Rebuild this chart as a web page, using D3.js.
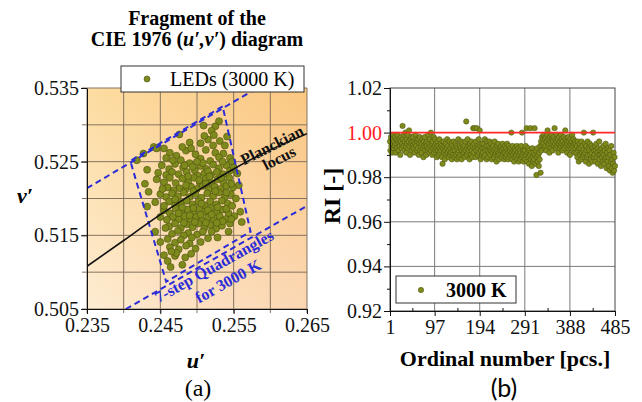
<!DOCTYPE html>
<html>
<head>
<meta charset="utf-8">
<script src="https://cdn.jsdelivr.net/npm/d3@7"></script>
<style>
body { margin: 0; background: #fff; }
text { font-family: 'Liberation Serif', 'Times New Roman', serif; }
</style>
</head>
<body>
<script>
// ---------- panel (a): CIE 1976 u'v' fragment ----------
const ledPoints = [
  [0.2530, 0.5305], [0.2525, 0.5298], [0.2509, 0.5299], [0.2520, 0.5292],
  [0.2476, 0.5287], [0.2523, 0.5286], [0.2541, 0.5284], [0.2515, 0.5280], [0.2531, 0.5278], [0.2505, 0.5275],
  [0.2441, 0.5270], [0.2445, 0.5268], [0.2538, 0.5272], [0.2490, 0.5276],
  [0.2427, 0.5261], [0.2536, 0.5261], [0.2463, 0.5262], [0.2472, 0.5258], [0.2485, 0.5265], [0.2498, 0.5260],
  [0.2512, 0.5266], [0.2525, 0.5262], [0.2545, 0.5255], [0.2418, 0.5252], [0.2478, 0.5252], [0.2505, 0.5254],
  [0.2518, 0.5251], [0.2530, 0.5256], [0.2458, 0.5255], [0.2492, 0.5268], [0.2548, 0.5250],
  [0.2432, 0.5239], [0.2452, 0.5245], [0.2462, 0.5240], [0.2470, 0.5247], [0.2481, 0.5242], [0.2490, 0.5248],
  [0.2497, 0.5238], [0.2505, 0.5244], [0.2513, 0.5240], [0.2522, 0.5246], [0.2530, 0.5241], [0.2540, 0.5245],
  [0.2555, 0.5234], [0.2475, 0.5233], [0.2486, 0.5236], [0.2501, 0.5231], [0.2510, 0.5234], [0.2519, 0.5232],
  [0.2527, 0.5236], [0.2536, 0.5233], [0.2545, 0.5238], [0.2458, 0.5232], [0.2466, 0.5236], [0.2494, 0.5243],
  [0.2550, 0.5242],
  [0.2429, 0.5220], [0.2445, 0.5226], [0.2455, 0.5222], [0.2463, 0.5228], [0.2471, 0.5221], [0.2480, 0.5227],
  [0.2488, 0.5222], [0.2496, 0.5228], [0.2504, 0.5222], [0.2512, 0.5227], [0.2520, 0.5221], [0.2528, 0.5226],
  [0.2536, 0.5222], [0.2544, 0.5228], [0.2557, 0.5218], [0.2476, 0.5214], [0.2484, 0.5212], [0.2492, 0.5216],
  [0.2500, 0.5213], [0.2508, 0.5217], [0.2516, 0.5212], [0.2524, 0.5216], [0.2532, 0.5213], [0.2540, 0.5217],
  [0.2549, 0.5215], [0.2460, 0.5215], [0.2468, 0.5211], [0.2434, 0.5209],
  [0.2450, 0.5206], [0.2458, 0.5202], [0.2466, 0.5207], [0.2474, 0.5203], [0.2482, 0.5208], [0.2490, 0.5202],
  [0.2498, 0.5206], [0.2506, 0.5201], [0.2514, 0.5207], [0.2522, 0.5203], [0.2530, 0.5208], [0.2538, 0.5202],
  [0.2546, 0.5206], [0.2553, 0.5200], [0.2478, 0.5194], [0.2486, 0.5197], [0.2494, 0.5192], [0.2502, 0.5196],
  [0.2510, 0.5191], [0.2518, 0.5196], [0.2526, 0.5192], [0.2534, 0.5197], [0.2542, 0.5193], [0.2462, 0.5196],
  [0.2470, 0.5191], [0.2432, 0.5189], [0.2443, 0.5195],
  [0.2455, 0.5184], [0.2463, 0.5180], [0.2471, 0.5186], [0.2479, 0.5181], [0.2487, 0.5185], [0.2495, 0.5180],
  [0.2503, 0.5186], [0.2511, 0.5182], [0.2519, 0.5187], [0.2527, 0.5181], [0.2535, 0.5185], [0.2543, 0.5180],
  [0.2559, 0.5182], [0.2551, 0.5176], [0.2475, 0.5172], [0.2483, 0.5176], [0.2491, 0.5171], [0.2499, 0.5175],
  [0.2507, 0.5170], [0.2515, 0.5174], [0.2523, 0.5171], [0.2531, 0.5176], [0.2539, 0.5172], [0.2467, 0.5175],
  [0.2459, 0.5171],
  [0.2561, 0.5168], [0.2462, 0.5162], [0.2470, 0.5166], [0.2478, 0.5160], [0.2486, 0.5165], [0.2494, 0.5161],
  [0.2502, 0.5166], [0.2510, 0.5160], [0.2518, 0.5164], [0.2526, 0.5159], [0.2534, 0.5163], [0.2545, 0.5166],
  [0.2520, 0.5155], [0.2543, 0.5155], [0.2443, 0.5155], [0.2466, 0.5152], [0.2474, 0.5156], [0.2488, 0.5153],
  [0.2500, 0.5151], [0.2508, 0.5155], [0.2482, 0.5150],
  [0.2450, 0.5141], [0.2460, 0.5145], [0.2470, 0.5140], [0.2478, 0.5144], [0.2490, 0.5139], [0.2505, 0.5141],
  [0.2515, 0.5146], [0.2498, 0.5132], [0.2463, 0.5134], [0.2475, 0.5131], [0.2485, 0.5136],
  [0.2455, 0.5123], [0.2484, 0.5120], [0.2470, 0.5122], [0.2460, 0.5115], [0.2464, 0.5107], [0.2492, 0.5125],
  [0.2483, 0.5245], [0.2508, 0.5248], [0.2515, 0.5237], [0.2533, 0.5228], [0.2488, 0.5230], [0.2503, 0.5225],
  [0.2517, 0.5230], [0.2525, 0.5210], [0.2495, 0.5210], [0.2485, 0.5218], [0.2512, 0.5220], [0.2540, 0.5208],
  [0.2470, 0.5199], [0.2480, 0.5188], [0.2495, 0.5187], [0.2506, 0.5193], [0.2515, 0.5184], [0.2528, 0.5188],
  [0.2540, 0.5186], [0.2548, 0.5190], [0.2475, 0.5180], [0.2490, 0.5177], [0.2505, 0.5178], [0.2520, 0.5178],
  [0.2535, 0.5169], [0.2547, 0.5172], [0.2482, 0.5167], [0.2497, 0.5168], [0.2512, 0.5167], [0.2527, 0.5167],
  [0.2455, 0.5190], [0.2450, 0.5175], [0.2457, 0.5160], [0.2528, 0.5147], [0.2493, 0.5147], [0.2472, 0.5126],
  [0.2480, 0.5110], [0.2465, 0.5128], [0.2547, 0.5220], [0.2453, 0.5213], [0.2447, 0.5235], [0.2467, 0.5252],
  [0.2500, 0.5250], [0.2535, 0.5250], [0.2522, 0.5272], [0.2480, 0.5270], [0.2510, 0.5285], [0.2455, 0.5268]
];
const planckLocus = [[0.235, 0.5108], [0.240, 0.5143], [0.245, 0.5178], [0.250, 0.5210],
  [0.255, 0.5240], [0.260, 0.5266], [0.265, 0.5288]];
const quadrangle = [[0.2535, 0.5325], [0.2409, 0.5251], [0.2458, 0.5087], [0.2573, 0.5155]];
const upperDuvLine = [[0.235, 0.5214], [0.2582, 0.535]];
const lowerDuvLine = [[0.2403, 0.505], [0.265, 0.5190]];
const uGrid = [0.235, 0.240, 0.245, 0.250, 0.255, 0.260, 0.265];
const vGrid = [0.505, 0.510, 0.515, 0.520, 0.525, 0.530, 0.535];
const uTicks = [0.235, 0.245, 0.255, 0.265];
const vTicks = [0.505, 0.515, 0.525, 0.535];

// ---------- panel (b): RI per LED ----------
const riValues = [
  0.996,0.992,0.998,0.994,0.991,0.997,0.995,0.999,0.993,0.996,
  0.994,0.998,0.991,0.995,0.997,0.993,0.999,0.996,0.992,0.995,
  0.997,0.994,0.990,0.996,0.998,0.993,0.995,1.003,0.997,0.994,
  0.999,0.992,0.996,1.000,0.994,0.991,0.997,0.995,0.999,0.993,
  0.996,1.001,0.994,0.990,0.997,0.995,0.998,0.992,0.996,0.994,
  0.998,0.993,0.996,0.991,0.995,0.999,0.994,0.997,0.992,0.996,
  0.993,0.997,0.990,0.995,0.998,0.992,0.994,0.996,0.991,0.995,
  0.997,0.993,0.989,0.996,0.994,0.998,0.992,0.995,0.990,0.994,
  0.996,0.992,0.999,0.993,0.995,0.991,0.997,0.994,1.000,0.992,
  0.995,0.990,0.996,0.993,0.998,0.991,0.994,0.997,0.992,0.995,
  0.993,0.989,0.996,0.992,0.994,0.990,0.997,0.993,0.991,0.995,
  0.992,0.994,0.989,0.986,0.993,0.996,0.991,0.994,0.988,0.992,
  0.995,0.990,0.993,0.997,0.991,0.994,0.989,0.992,0.996,0.990,
  0.993,0.991,0.995,0.988,0.994,0.992,0.990,0.996,0.993,0.989,
  0.992,0.995,0.990,0.994,0.988,0.993,0.991,0.997,0.989,0.992,
  0.994,0.990,0.993,0.996,0.988,0.992,0.995,0.990,0.993,0.991,
  0.994,0.989,0.996,0.992,1.005,0.990,0.993,0.997,0.991,0.994,
  0.992,0.988,0.995,0.993,0.990,0.996,0.992,0.989,0.994,1.002,
  0.991,0.995,1.002,0.993,0.989,0.996,0.992,1.002,0.994,0.990,
  0.993,0.997,0.991,1.001,0.994,0.988,0.992,0.995,0.990,0.993,
  0.991,0.995,0.989,0.993,0.997,0.990,0.992,0.994,0.988,0.996,
  0.992,0.989,0.994,0.991,0.996,0.993,0.990,0.992,0.995,0.988,
  0.993,0.991,0.994,0.989,0.992,0.996,0.990,0.993,0.991,0.987,
  0.994,0.992,0.990,0.995,0.991,0.988,0.993,0.990,0.992,0.994,
  0.989,0.992,0.995,0.990,0.993,0.991,0.988,0.994,0.991,0.989,
  0.993,0.990,0.995,0.992,0.988,0.991,0.994,0.989,0.992,0.990,
  0.993,1.000,0.991,0.988,0.994,0.990,0.992,0.987,0.991,0.993,
  0.989,0.992,0.990,0.994,0.988,0.991,0.993,0.987,0.990,0.992,
  0.988,0.991,0.994,0.989,1.000,0.990,0.992,0.987,0.991,0.989,
  0.992,0.988,0.994,0.990,1.002,0.987,0.991,0.993,0.989,0.986,
  0.992,0.990,1.002,0.988,0.991,0.985,0.993,0.989,0.987,0.991,
  0.988,1.002,0.990,0.986,0.992,0.981,0.989,0.993,0.987,0.990,
  0.985,0.991,0.988,0.994,0.982,0.996,0.992,0.998,0.994,0.997,
  0.995,0.999,0.993,0.997,0.994,0.998,0.992,0.996,0.999,1.001,
  0.994,0.997,0.995,0.991,0.998,0.996,0.993,0.999,0.995,0.997,
  0.992,0.996,0.998,0.994,1.002,0.995,0.997,0.993,0.996,0.999,
  0.994,0.997,0.991,0.995,0.998,0.993,0.996,0.994,0.999,0.995,
  0.997,0.992,0.996,0.994,0.998,0.993,0.995,1.001,0.997,0.994,
  0.996,0.991,0.995,0.998,0.993,0.996,0.994,0.990,0.997,0.995,
  0.993,0.996,0.999,0.994,0.992,0.997,0.995,0.991,0.996,0.993,
  0.995,0.991,0.994,0.989,0.996,0.992,0.987,0.993,0.995,0.990,
  0.993,0.988,0.996,0.991,0.994,0.989,0.992,1.000,0.990,0.995,
  0.991,0.987,0.994,0.992,0.989,0.996,0.990,0.993,0.986,0.992,
  0.995,0.990,0.988,0.994,0.991,0.987,0.993,1.000,0.989,0.992,
  0.990,0.994,0.987,0.992,0.995,0.989,0.991,0.986,0.993,0.990,
  0.996,0.988,0.992,0.990,0.985,0.993,0.989,0.991,0.987,0.994,
  0.990,0.986,0.992,0.988,0.995,0.989,0.984,0.991,0.987,0.993,
  0.989,0.985,0.992,0.983,0.990,0.987,0.994,0.984,0.988,0.982,
  0.986,0.991,0.983,0.989,0.985
];
const ordTicks = [1, 97, 194, 291, 388, 485];
const ordMinor = [49, 146, 243, 340, 437];
const riTicks = [0.92, 0.94, 0.96, 0.98, 1.00, 1.02];
const riMinor = [0.93, 0.95, 0.97, 0.99, 1.01];

const dotFill = '#7f8a1d';
const dotStroke = '#4a500e';
const quadBlue = '#2b2bd8';

const svg = d3.select('body').append('svg')
  .attr('width', 642)
  .attr('height', 402)
  .style('font-family', "'Liberation Serif', serif");

const defs = svg.append('defs');
const gv = defs.append('linearGradient').attr('id', 'bgV').attr('x1', 0).attr('y1', 0).attr('x2', 0).attr('y2', 1);
gv.append('stop').attr('offset', 0).attr('stop-color', '#fcd48c');
gv.append('stop').attr('offset', 1).attr('stop-color', '#fde8cd');
const gh = defs.append('linearGradient').attr('id', 'bgH').attr('x1', 0).attr('y1', 0).attr('x2', 1).attr('y2', 0);
gh.append('stop').attr('offset', 0).attr('stop-color', '#fff6e0').attr('stop-opacity', 0.25);
gh.append('stop').attr('offset', 1).attr('stop-color', '#f59a5a').attr('stop-opacity', 0.22);

// ---------- panel (a) ----------
const xA = d3.scaleLinear().domain([0.235, 0.265]).range([87, 307]);
const yA = d3.scaleLinear().domain([0.505, 0.535]).range([309, 88]);

defs.append('clipPath').attr('id', 'clipA')
  .append('rect').attr('x', 87).attr('y', 88).attr('width', 220).attr('height', 221);

const gA = svg.append('g');
gA.append('rect').attr('x', 87).attr('y', 88).attr('width', 220).attr('height', 221).attr('fill', 'url(#bgV)');
gA.append('rect').attr('x', 87).attr('y', 88).attr('width', 220).attr('height', 221).attr('fill', 'url(#bgH)');

gA.selectAll('line.gu').data(uGrid).enter().append('line').classed('gu', true)
  .attr('x1', (d) => xA(d)).attr('x2', (d) => xA(d))
  .attr('y1', yA(0.535)).attr('y2', yA(0.505) + 4)
  .style('stroke', '#857460').style('stroke-width', 1);
gA.selectAll('line.gv').data(vGrid).enter().append('line').classed('gv', true)
  .attr('x1', xA(0.235) - 5).attr('x2', xA(0.265))
  .attr('y1', (d) => yA(d)).attr('y2', (d) => yA(d))
  .style('stroke', '#857460').style('stroke-width', 1);

gA.selectAll('circle.led').data(ledPoints).enter().append('circle').classed('led', true)
  .attr('cx', (d) => xA(d[0])).attr('cy', (d) => yA(d[1]))
  .attr('r', 3.5)
  .style('fill', dotFill).style('stroke', dotStroke).style('stroke-width', 0.6);

const lineA = d3.line().x((d) => xA(d[0])).y((d) => yA(d[1]));
const clipped = gA.append('g').attr('clip-path', 'url(#clipA)');
[upperDuvLine, lowerDuvLine].forEach((l) => {
  clipped.append('path').attr('d', lineA(l))
    .style('fill', 'none').style('stroke', quadBlue).style('stroke-width', 2).style('stroke-dasharray', '6,4');
});
clipped.append('path').attr('d', lineA(quadrangle) + 'Z')
  .style('fill', 'none').style('stroke', quadBlue).style('stroke-width', 2).style('stroke-dasharray', '6,4');
clipped.append('path').attr('d', d3.line().x((d) => xA(d[0])).y((d) => yA(d[1])).curve(d3.curveNatural)(planckLocus))
  .style('fill', 'none').style('stroke', '#111').style('stroke-width', 1.6);

function rotLabel(g, txt, x, y, ang, color) {
  g.append('text').attr('transform', `translate(${x},${y}) rotate(${ang})`)
    .attr('text-anchor', 'middle').attr('dy', '0.35em')
    .style('font-size', '16px').style('font-weight', 'bold').style('fill', color)
    .text(txt);
}
rotLabel(gA, 'Planckian', 272, 145, -27, '#111');
rotLabel(gA, 'locus', 279, 158, -27, '#111');
rotLabel(gA, '7-step Quadrangles', 214, 266, -29, quadBlue);
rotLabel(gA, 'for 3000 K', 228, 281, -29, quadBlue);

const axA = gA.append('g').attr('transform', `translate(0,${yA(0.505)})`)
  .call(d3.axisBottom(xA).tickValues(uTicks).tickFormat(d3.format('.3f')).tickSize(5).tickPadding(4).tickSizeOuter(0));
const ayA = gA.append('g').attr('transform', `translate(${xA(0.235)},0)`)
  .call(d3.axisLeft(yA).tickValues(vTicks).tickFormat(d3.format('.3f')).tickSize(6).tickPadding(2).tickSizeOuter(0));
[axA, ayA].forEach((a) => {
  a.selectAll('text').style('font-size', '20px').style('font-family', "'Liberation Serif', serif").style('fill', '#111');
  a.selectAll('line, path').style('stroke', '#111');
});

// legend (a)
const legA = svg.append('g');
legA.append('rect').attr('x', 121).attr('y', 66).attr('width', 183).attr('height', 26)
  .style('fill', '#fff').style('stroke', '#333').style('stroke-width', 1);
legA.append('circle').attr('cx', 147).attr('cy', 79).attr('r', 3)
  .style('fill', dotFill).style('stroke', dotStroke).style('stroke-width', 0.6);
legA.append('text').attr('x', 170).attr('y', 86).style('font-size', '20px').text('LEDs (3000 K)');

// titles (a)
svg.append('text').attr('x', 197).attr('y', 25).attr('text-anchor', 'middle')
  .style('font-size', '20px').style('font-weight', 'bold').text('Fragment of the');
const t2 = svg.append('text').attr('x', 197).attr('y', 46).attr('text-anchor', 'middle')
  .style('font-size', '20px').style('font-weight', 'bold');
t2.append('tspan').text('CIE 1976 (');
t2.append('tspan').style('font-style', 'italic').text('u′,v′');
t2.append('tspan').text(') diagram');

svg.append('text').attr('x', 196).attr('y', 368).attr('text-anchor', 'middle')
  .style('font-size', '22px').style('font-weight', 'bold').style('font-style', 'italic').text('u′');
svg.append('text').attr('x', 25).attr('y', 203).attr('text-anchor', 'middle')
  .style('font-size', '22px').style('font-weight', 'bold').style('font-style', 'italic').text('v′');
svg.append('text').attr('x', 198).attr('y', 396).attr('text-anchor', 'middle')
  .style('font-size', '24px').text('(a)');

// ---------- panel (b) ----------
const xB = d3.scaleLinear().domain([1, 485]).range([390, 615]);
const yB = d3.scaleLinear().domain([0.92, 1.02]).range([311, 88]);
const gB = svg.append('g');

gB.selectAll('line.gx').data(ordTicks.slice(1, -1)).enter().append('line').classed('gx', true)
  .attr('x1', (d) => xB(d)).attr('x2', (d) => xB(d))
  .attr('y1', yB(1.02)).attr('y2', yB(0.92))
  .style('stroke', '#7a7a7a').style('stroke-width', 1);
gB.selectAll('line.gy').data(riTicks.filter((d) => d > 0.93 && d < 0.995)).enter().append('line').classed('gy', true)
  .attr('x1', xB(1)).attr('x2', xB(485))
  .attr('y1', (d) => yB(d)).attr('y2', (d) => yB(d))
  .style('stroke', '#7a7a7a').style('stroke-width', 1);
gB.append('rect').attr('x', xB(1)).attr('y', yB(1.02)).attr('width', xB(485) - xB(1)).attr('height', yB(0.92) - yB(1.02))
  .style('fill', 'none').style('stroke', '#444').style('stroke-width', 1);

gB.selectAll('circle.ri').data(riValues).enter().append('circle').classed('ri', true)
  .attr('cx', (d, i) => xB(i + 1)).attr('cy', (d) => yB(d))
  .attr('r', 2.7)
  .style('fill', dotFill).style('stroke', dotStroke).style('stroke-width', 0.5);

gB.append('line').attr('x1', xB(1)).attr('x2', xB(485)).attr('y1', yB(1.0)).attr('y2', yB(1.0))
  .style('stroke', '#ff2a2a').style('stroke-width', 1.6);

const axB = gB.append('g').attr('transform', `translate(0,${yB(0.92)})`)
  .call(d3.axisBottom(xB).tickValues(ordTicks).tickSize(5).tickPadding(4).tickSizeOuter(0));
const ayB = gB.append('g').attr('transform', `translate(${xB(1)},0)`)
  .call(d3.axisLeft(yB).tickValues(riTicks).tickFormat(d3.format('.2f')).tickSize(6).tickPadding(2).tickSizeOuter(0));
const mxB = gB.append('g').attr('transform', `translate(0,${yB(0.92)})`)
  .call(d3.axisTop(xB).tickValues(ordMinor).tickFormat('').tickSize(3).tickSizeOuter(0));
const myB = gB.append('g').attr('transform', `translate(${xB(1)},0)`)
  .call(d3.axisLeft(yB).tickValues(riMinor).tickFormat('').tickSize(3).tickSizeOuter(0));
[axB, ayB, mxB, myB].forEach((a) => {
  a.selectAll('text').style('font-size', '20px').style('font-family', "'Liberation Serif', serif").style('fill', '#111');
  a.selectAll('line, path').style('stroke', '#111');
});
ayB.selectAll('.tick text').filter((d) => Math.abs(d - 1) < 1e-9).style('fill', '#ff1a1a');

// legend (b)
const legB = svg.append('g');
legB.append('rect').attr('x', 396).attr('y', 276).attr('width', 120).attr('height', 27)
  .style('fill', '#fff').style('stroke', '#333').style('stroke-width', 1);
legB.append('circle').attr('cx', 421).attr('cy', 290).attr('r', 2.7)
  .style('fill', dotFill).style('stroke', dotStroke).style('stroke-width', 0.5);
legB.append('text').attr('x', 446).attr('y', 297).style('font-size', '20px').style('font-weight', 'bold').text('3000 K');

svg.append('text').attr('transform', 'translate(340,196) rotate(-90)').attr('text-anchor', 'middle')
  .style('font-size', '24px').style('font-weight', 'bold').text('RI [-]');
svg.append('text').attr('x', 505).attr('y', 366).attr('text-anchor', 'middle')
  .style('font-size', '22px').style('font-weight', 'bold').text('Ordinal number [pcs.]');
svg.append('text').attr('x', 504).attr('y', 397).attr('text-anchor', 'middle')
  .style('font-size', '25px').style('font-family', 'Lato, sans-serif').text('(b)');
</script>
</body>
</html>
